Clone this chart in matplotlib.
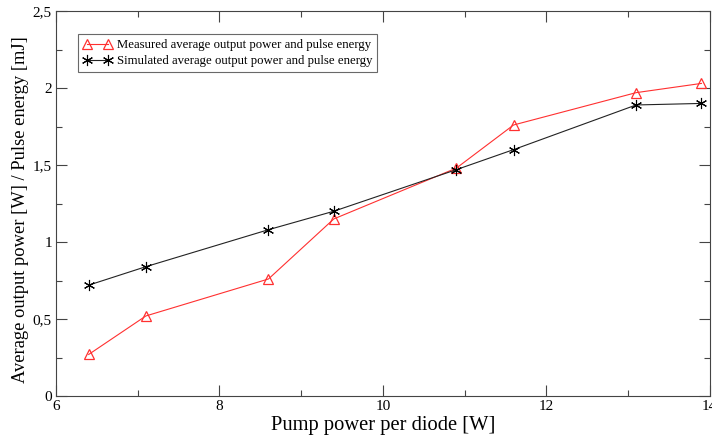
'''plot measured vs simulated output power'''
import matplotlib
matplotlib.use('Agg')
import matplotlib.pyplot as plt
from matplotlib.ticker import MultipleLocator, FuncFormatter

pump_power = [6.4, 7.1, 8.6, 9.4, 10.9, 11.6, 13.1, 13.9]
measured = [0.27, 0.52, 0.76, 1.15, 1.48, 1.76, 1.97, 2.03]
simulated = [0.72, 0.84, 1.08, 1.20, 1.47, 1.60, 1.89, 1.90]

x_ticks = [6, 8, 10, 12, 14]
y_ticks = [0, 0.5, 1, 1.5, 2, 2.5]

plt.rcParams['font.family'] = ['Liberation Serif', 'DejaVu Serif']

fig = plt.figure(figsize=(7.12, 4.36), dpi=100)
ax = fig.add_axes([0.0787, 0.0917, 0.918, 0.883])

ax.plot(pump_power, measured, color='#ff3030', lw=0.8, marker='^',
        markersize=7, markerfacecolor='none', markeredgecolor='#ff3030',
        markeredgewidth=0.9,
        label='Measured average output power and pulse energy')
ax.plot(pump_power, simulated, color='#222222', lw=0.8, marker=(6, 2, 0),
        markersize=8, markeredgecolor='black', markeredgewidth=0.8,
        label='Simulated average output power and pulse energy')

ax.set_xlim(6, 14)
ax.set_ylim(0, 2.5)
ax.set_xticks(x_ticks)
ax.set_yticks(y_ticks)
ax.xaxis.set_minor_locator(MultipleLocator(1))
ax.yaxis.set_minor_locator(MultipleLocator(0.25))

# comma decimal separator, as in the original
def comma_fmt(v, pos):
    s = ('%g' % v).replace('.', ',')
    return s
ax.yaxis.set_major_formatter(FuncFormatter(comma_fmt))
ax.xaxis.set_major_formatter(FuncFormatter(comma_fmt))

ax.tick_params(which='both', direction='in', top=True, right=True,
               color='#444444', labelsize=11, pad=3)
ax.tick_params(which='major', length=8, width=0.8)
ax.tick_params(which='minor', length=4, width=0.8)
for sp in ax.spines.values():
    sp.set_color('#444444')
    sp.set_linewidth(0.8)

ax.set_xlabel('Pump power per diode [W]', fontsize=14.8, labelpad=2)
ax.set_ylabel('Average output power [W] / Pulse energy [mJ]', fontsize=13.3)
ax.yaxis.set_label_coords(-0.042, 0.485)

leg = ax.legend(loc='upper left', bbox_to_anchor=(0.034, 0.94), fontsize=9.2,
                frameon=True, fancybox=False, edgecolor='#444444',
                handlelength=2.2, handletextpad=0.4, borderpad=0.4,
                labelspacing=0.3, numpoints=2, borderaxespad=0)
leg.get_frame().set_linewidth(0.8)

fig.savefig('out.png', dpi=100)
